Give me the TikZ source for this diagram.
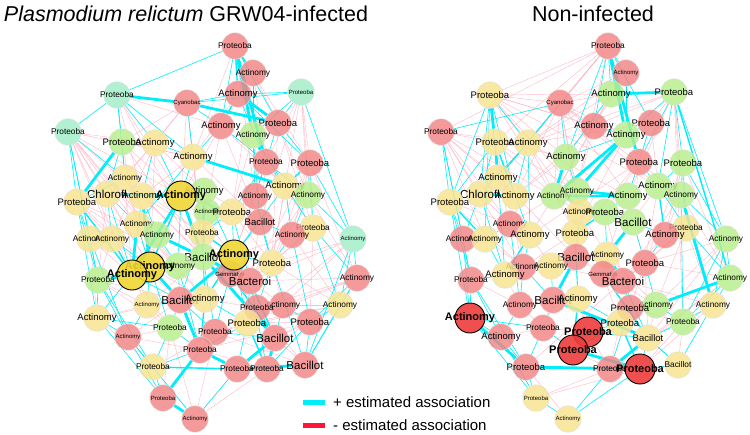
\documentclass[tikz,border=0pt]{standalone}
\usepackage{fontspec}
\setmainfont{Liberation Sans}
\pgfdeclarelayer{bg}
\pgfdeclarelayer{edges}
\pgfsetlayers{bg,edges,main}
\definecolor{nred}{RGB}{242,132,132}
\definecolor{nyel}{RGB}{248,228,142}
\definecolor{ngrn}{RGB}{184,238,140}
\definecolor{nmint}{RGB}{160,238,200}
\definecolor{byel}{RGB}{240,214,52}
\definecolor{bred}{RGB}{238,60,60}
\definecolor{ecyan}{RGB}{0,238,250}
\definecolor{epink}{RGB}{255,178,194}
\definecolor{legred}{RGB}{255,20,60}
\tikzset{
  nd/.style={circle, minimum size=26.5pt, inner sep=0pt, draw=black!12, line width=0.4pt, fill opacity=0.82, text opacity=1},
  bignd/.style={nd, minimum size=30pt, draw=black, line width=0.9pt, fill opacity=0.9},
  kr/.style={nd, fill=nred}, ky/.style={nd, fill=nyel}, kg/.style={nd, fill=ngrn},
  km/.style={nd, fill=nmint}, kby/.style={bignd, fill=byel}, kbr/.style={bignd, fill=bred},
  fs/.style={font=\fontsize{6}{6}\selectfont},
  fn/.style={font=\fontsize{8.3}{8.3}\selectfont},
  fm/.style={font=\fontsize{9.5}{9.5}\selectfont},
  fl/.style={font=\fontsize{11.5}{11.5}\selectfont},
  fb/.style={font=\fontsize{11}{11}\selectfont\bfseries},
  ce/.style={draw=ecyan, line width=0.6pt},
  cmed/.style={draw=ecyan, line width=1.4pt},
  ck/.style={draw=ecyan, line width=2.8pt},
  pe/.style={draw=epink, line width=0.4pt, opacity=0.9},
  ttl/.style={font=\fontsize{21.5}{21.5}\selectfont},
  leg/.style={font=\fontsize{15}{15}\selectfont, anchor=west, inner sep=0pt}
}
\begin{document}
\begin{tikzpicture}[x=1pt,y=-1pt]
\useasboundingbox (0,0) rectangle (750,434);
\begin{pgfonlayer}{bg}
\fill[white] (0,0) rectangle (750,434);
\end{pgfonlayer}
% positions
\foreach \i/\x/\y in {1/117/95, 2/68/132, 3/122/142, 4/155/143, 5/187/103, 6/235/46, 7/253/73, 8/238/94, 9/301/92, 10/221/126, 11/278/123, 12/253/135, 13/193/157, 14/266/162, 15/310/163, 16/125/178, 17/181/196, 18/204/191, 19/255/196, 20/285/186, 21/308/195, 22/107/194, 23/142/196, 24/77/202, 25/207/212, 26/232/212, 27/260/222, 28/313/228, 29/292/235, 30/353/239, 31/202/233, 32/137/224, 33/157/235, 34/90/239, 35/112/239, 36/203/257, 37/234/255, 38/272/263, 39/357/278, 40/150/267, 41/132/275, 42/178/266, 43/98/280, 44/230/274, 45/250/281, 46/180/300, 47/205/299, 48/147/305, 49/97/318, 50/283/305, 51/257/308, 52/340/305, 53/310/322, 54/170/328, 55/247/323, 56/215/332, 57/128/337, 58/275/338, 59/200/350, 60/153/367, 61/237/369, 62/267/369, 63/305/365, 64/163/398, 65/195/419}
  \coordinate (P\i) at (\x,\y);
% left network nodes
\foreach \i/\s/\f/\t in {1/km/fn/Proteoba, 2/km/fn/Proteoba, 3/kg/fm/Proteoba, 4/ky/fm/Actinomy, 5/kr/fs/Cyanobac, 6/kr/fn/Proteoba, 7/kr/fn/Actinomy, 8/kr/fm/Actinomy, 9/km/fs/Proteoba, 10/kr/fm/Actinomy, 11/kr/fm/Proteoba, 12/kg/fn/Actinomy, 13/ky/fm/Actinomy, 14/kr/fn/Proteoba, 15/kr/fm/Proteoba, 16/ky/fn/Actinomy, 18/kg/fm/Actinomy, 19/kr/fn/Actinomy, 20/ky/fm/Actinomy, 21/kg/fn/Actinomy, 22/ky/fl/Chlorofl, 23/ky/fm/Actinomy, 24/ky/fm/Proteoba, 25/kg/fs/Actinomy, 26/ky/fm/Proteoba, 27/kr/fm/Bacillot, 28/ky/fn/Proteoba, 29/kr/fn/Actinomy, 30/km/fs/Actinomy, 31/ky/fn/Proteoba, 32/ky/fn/Actinomy, 33/kg/fn/Actinomy, 34/ky/fn/Actinomy, 35/ky/fn/Actinomy, 36/kg/fl/Bacillot, 38/ky/fm/Proteoba, 39/kr/fn/Actinomy, 42/kg/fn/Actinomy, 43/kg/fn/Proteoba, 44/kr/fs/Gemmatim, 45/kr/fl/Bacteroi, 46/kr/fl/Bacillot, 47/ky/fm/Actinomy, 48/ky/fs/Actinomy, 49/ky/fm/Actinomy, 50/kr/fn/Actinomy, 51/kr/fn/Proteoba, 52/ky/fn/Actinomy, 53/kr/fm/Proteoba, 54/kg/fn/Proteoba, 55/ky/fm/Proteoba, 56/kr/fn/Proteoba, 57/kr/fs/Actinomy, 58/kr/fl/Bacillot, 59/kr/fn/Proteoba, 60/ky/fn/Proteoba, 61/kr/fn/Proteoba, 62/kr/fn/Proteoba, 63/kr/fl/Bacillot, 64/kr/fs/Proteoba, 65/kr/fs/Actinomy, 17/kby/fb/Actinomy, 37/kby/fb/Actinomy, 40/kby/fb/Actinomy, 41/kby/fb/Actinomy}
  \node[\s, label={[\f, inner sep=0pt]center:\t}] (L\i) at (P\i) {};
% right network nodes
\foreach \i/\s/\f/\t in {1/ky/fm/Proteoba, 2/kr/fn/Proteoba, 3/ky/fm/Proteoba, 4/ky/fm/Actinomy, 5/kr/fs/Cyanobac, 6/kr/fn/Proteoba, 7/kr/fs/Actinomy, 8/kg/fm/Actinomy, 9/kg/fm/Proteoba, 10/kr/fm/Actinomy, 11/kr/fm/Proteoba, 12/kg/fm/Actinomy, 13/kg/fm/Actinomy, 14/kr/fm/Proteoba, 15/kg/fm/Proteoba, 16/ky/fm/Actinomy, 17/kg/fn/Actinomy, 18/kg/fn/Actinomy, 19/kg/fm/Actinomy, 20/kg/fm/Actinomy, 21/kg/fn/Actinomy, 22/ky/fl/Chlorofl, 23/ky/fm/Actinomy, 24/ky/fm/Proteoba, 25/ky/fn/Actinomy, 26/kg/fm/Proteoba, 27/kg/fl/Bacillot, 28/ky/fn/Proteoba, 29/kr/fm/Actinomy, 30/kg/fn/Actinomy, 31/ky/fm/Proteoba, 32/kr/fn/Actinomy, 33/ky/fm/Actinomy, 34/kr/fn/Actinomy, 35/ky/fn/Actinomy, 36/kr/fl/Bacillot, 37/ky/fn/Actinomy, 38/kr/fm/Proteoba, 39/kg/fn/Actinomy, 40/kr/fn/Actinomy, 41/ky/fm/Actinomy, 42/ky/fn/Actinomy, 43/kr/fn/Proteoba, 44/kr/fs/Gemmatim, 45/kr/fl/Bacteroi, 46/kr/fl/Bacillot, 47/ky/fm/Actinomy, 48/kr/fn/Actinomy, 50/kg/fn/Actinomy, 51/kr/fm/Proteoba, 52/ky/fn/Actinomy, 53/kg/fn/Proteoba, 54/kr/fn/Proteoba, 55/ky/fm/Proteoba, 57/kr/fm/Actinomy, 58/ky/fm/Bacillot, 60/kr/fm/Proteoba, 61/kr/fn/Proteoba, 63/ky/fn/Bacillot, 64/ky/fs/Proteoba, 65/ky/fs/Actinomy, 49/kbr/fb/Actinomy, 56/kbr/fb/Proteoba, 59/kbr/fb/Proteoba, 62/kbr/fb/Proteoba}
  \node[\s, label={[\f, inner sep=0pt]center:\t}] (R\i) at ([xshift=373pt]P\i) {};
% titles
\node[ttl] (t1) at (186,14) {\textit{Plasmodium relictum} GRW04-infected};
\node[ttl] (t2) at (593,14) {Non-infected};
% legend
\coordinate (la1) at (303,402); \coordinate (la2) at (325,402);
\coordinate (lb1) at (303,425); \coordinate (lb2) at (325,425);
\draw[ecyan, line width=5pt] (la1) -- (la2);
\draw[legred, line width=5pt] (lb1) -- (lb2);
\node[leg] (lt1) at (333,402) {+ estimated association};
\node[leg] (lt2) at (333,425) {- estimated association};
\begin{pgfonlayer}{edges}
% ---- left: negative
\foreach \a/\b in {2/4, 2/13, 2/17, 2/22, 2/23, 2/32, 2/40, 2/35, 1/17, 1/23, 1/10, 3/4, 3/13, 3/17, 3/32, 4/22, 4/35, 4/40, 5/4, 5/17, 5/13, 5/16, 5/3, 6/13, 6/15, 7/14, 7/11, 8/13, 8/20, 9/14, 9/15, 9/21, 9/28, 10/17, 10/20, 10/27, 11/21, 11/28, 12/20, 12/26, 13/23, 13/36, 14/27, 14/28, 15/29, 15/39, 16/40, 16/33, 17/37, 18/27, 19/37, 20/29, 21/38, 21/39, 22/40, 23/36, 24/35, 24/40, 25/27, 26/38, 27/45, 28/38, 29/37, 29/52, 30/38, 30/50, 31/37, 31/44, 32/42, 33/40, 34/41, 35/43, 36/44, 36/48, 38/50, 39/50, 40/47, 41/48, 42/47, 43/48, 44/51, 45/50, 46/48, 47/51, 48/54, 49/48, 50/52, 51/56, 52/58, 53/58, 54/57, 55/56, 56/60, 57/59, 58/63, 59/62, 60/62, 61/65, 62/65, 60/65, 64/56, 53/61, 28/53, 39/45, 38/52, 20/38, 13/27, 17/27, 16/41, 22/43, 34/49, 43/54, 49/60, 2/33, 2/41, 24/42, 35/46, 32/47, 23/31, 16/36, 4/18, 13/31, 10/31, 14/37, 11/38, 15/38, 21/45, 28/45, 30/45, 52/55, 53/55, 39/51, 63/51, 64/54, 65/54, 65/56, 57/46, 49/46, 43/46, 41/54, 2/42, 24/36, 16/31, 3/36, 1/36, 5/36, 6/19, 7/26, 9/38, 9/27, 15/45, 30/55, 39/55, 52/56, 63/56, 53/59}
  \draw[pe] (L\a) -- (L\b);
% ---- left: positive
\foreach \a/\b in {1/2, 1/3, 1/4, 1/6, 1/13, 1/16, 2/24, 2/16, 2/43, 3/16, 3/22, 4/17, 4/13, 4/23, 5/8, 5/10, 5/9, 6/7, 6/10, 6/11, 7/8, 7/12, 8/14, 8/9, 8/15, 9/11, 9/12, 9/30, 10/13, 10/14, 11/14, 11/15, 12/19, 12/27, 13/17, 14/19, 14/20, 15/28, 15/30, 15/21, 16/23, 17/18, 17/26, 17/33, 18/25, 18/31, 19/27, 20/28, 20/37, 21/29, 21/30, 22/35, 22/41, 23/33, 24/34, 24/43, 24/49, 25/36, 26/37, 27/38, 27/29, 28/39, 28/52, 29/38, 29/53, 30/39, 30/52, 31/36, 32/40, 33/42, 34/43, 35/40, 36/42, 36/47, 37/44, 37/38, 37/45, 38/51, 39/52, 39/53, 40/48, 41/49, 42/46, 43/49, 43/57, 44/45, 45/51, 45/55, 46/47, 46/54, 46/56, 47/55, 48/57, 49/57, 49/54, 50/51, 50/53, 50/58, 51/55, 52/53, 52/63, 53/63, 54/59, 54/60, 55/61, 56/58, 57/60, 57/64, 58/62, 59/60, 60/64, 61/62, 65/61, 53/62, 39/63, 24/16, 22/32, 13/32, 5/13, 26/31, 19/26, 27/37, 41/46, 48/46, 30/63, 34/57, 43/60, 49/64, 57/65, 2/34, 19/14, 20/12, 21/14, 31/47, 44/56, 45/62, 55/59, 38/63, 17/42, 18/37, 23/41, 36/56, 37/55, 40/54, 42/59, 26/45, 31/46, 19/38, 20/29, 14/26}
  \draw[ce] (L\a) -- (L\b);
\foreach \a/\b in {6/7, 8/10, 18/36, 37/47, 45/58, 40/43, 24/41, 55/62, 47/59, 60/61, 44/58, 6/8, 15/20, 51/58, 35/41, 17/40, 37/31}
  \draw[cmed] (L\a) -- (L\b);
\foreach \a/\b in {6/12, 6/14, 5/11, 8/11, 13/20, 1/5, 3/24, 16/22, 17/41, 17/36, 36/45, 37/46, 40/46, 41/43, 36/58, 46/59, 59/61, 58/61, 64/59, 64/65, 22/17, 33/36, 23/40, 32/41, 63/61, 12/14, 58/62}
  \draw[ck] (L\a) -- (L\b);
% ---- right: negative
\foreach \a/\b in {1/5, 1/8, 1/10, 1/13, 1/17, 1/18, 2/3, 2/4, 2/16, 2/22, 2/23, 2/32, 2/35, 3/4, 3/13, 3/17, 5/6, 5/7, 5/8, 5/10, 5/12, 5/17, 5/18, 5/19, 6/1, 6/4, 6/5, 6/16, 7/13, 7/10, 8/10, 8/17, 9/11, 9/19, 9/21, 9/28, 9/39, 10/17, 10/18, 10/23, 11/19, 11/20, 13/23, 13/25, 14/26, 14/27, 15/29, 15/38, 16/23, 16/32, 17/32, 17/33, 18/31, 19/37, 20/38, 21/39, 21/29, 22/32, 23/40, 24/32, 25/37, 26/45, 27/38, 28/38, 28/50, 29/45, 30/50, 30/38, 31/40, 32/33, 33/42, 34/35, 35/40, 36/40, 36/44, 37/50, 38/39, 38/51, 39/50, 40/42, 41/48, 42/45, 43/48, 44/50, 45/52, 46/48, 47/56, 48/54, 50/58, 51/53, 52/58, 53/62, 54/56, 55/61, 56/61, 57/54, 59/61, 60/65, 61/64, 62/64, 63/53, 64/57, 39/58, 28/52, 15/39, 9/53, 6/3, 6/2, 7/4, 8/4, 9/4, 9/10, 11/4, 5/23, 5/25, 1/25, 2/25, 3/40, 4/31, 12/31, 14/33, 14/42, 20/37, 21/45, 28/45, 38/58, 30/58, 52/62, 39/61, 45/60, 44/55, 36/54, 1/20, 5/20, 5/21, 6/18, 1/12, 3/18, 4/19, 2/40, 24/40, 16/36}
  \draw[pe] (R\a) -- (R\b);
% ---- right: positive
\foreach \a/\b in {2/5, 1/3, 1/16, 1/22, 1/24, 1/23, 3/22, 3/16, 4/16, 4/22, 4/23, 4/33, 5/4, 5/13, 5/16, 2/24, 2/34, 6/7, 6/8, 6/10, 6/13, 6/11, 7/12, 8/13, 9/12, 9/14, 9/15, 9/20, 10/12, 11/12, 11/14, 12/13, 13/18, 14/19, 14/20, 15/20, 15/21, 15/28, 15/30, 16/22, 17/26, 18/25, 19/26, 19/27, 20/21, 20/28, 21/30, 22/23, 22/34, 24/34, 24/43, 24/49, 26/27, 27/29, 28/29, 28/39, 29/38, 30/39, 30/52, 30/53, 31/36, 32/35, 33/40, 34/43, 35/41, 36/42, 36/47, 37/44, 37/45, 38/45, 38/50, 39/52, 39/53, 40/48, 41/43, 42/46, 43/49, 43/57, 44/45, 45/51, 46/47, 46/54, 47/55, 48/57, 49/57, 49/54, 50/51, 50/53, 51/55, 52/53, 52/63, 53/58, 54/59, 54/60, 55/56, 56/58, 57/60, 58/62, 58/63, 60/64, 61/62, 61/65, 62/65, 63/62, 64/65, 9/30, 21/53, 2/43, 1/4, 3/24, 1/35, 3/33, 16/41, 22/41, 34/49, 43/60, 49/64, 57/64, 32/48, 40/46, 31/47, 25/36, 26/37, 27/38, 45/58, 51/61, 55/59, 63/58}
  \draw[ce] (R\a) -- (R\b);
\foreach \a/\b in {3/23, 26/31, 44/58, 55/62, 61/58, 47/59, 9/39, 20/29, 24/35, 33/41}
  \draw[cmed] (R\a) -- (R\b);
\foreach \a/\b in {8/9, 17/19, 18/19, 12/18, 6/12, 6/14, 12/17, 60/62, 59/62, 56/59, 49/60, 36/46, 46/58, 37/45, 3/16, 1/3, 13/17, 27/37, 58/61, 21/52, 50/39, 22/23, 17/18}
  \draw[ck] (R\a) -- (R\b);
\end{pgfonlayer}
\end{tikzpicture}
\end{document}
